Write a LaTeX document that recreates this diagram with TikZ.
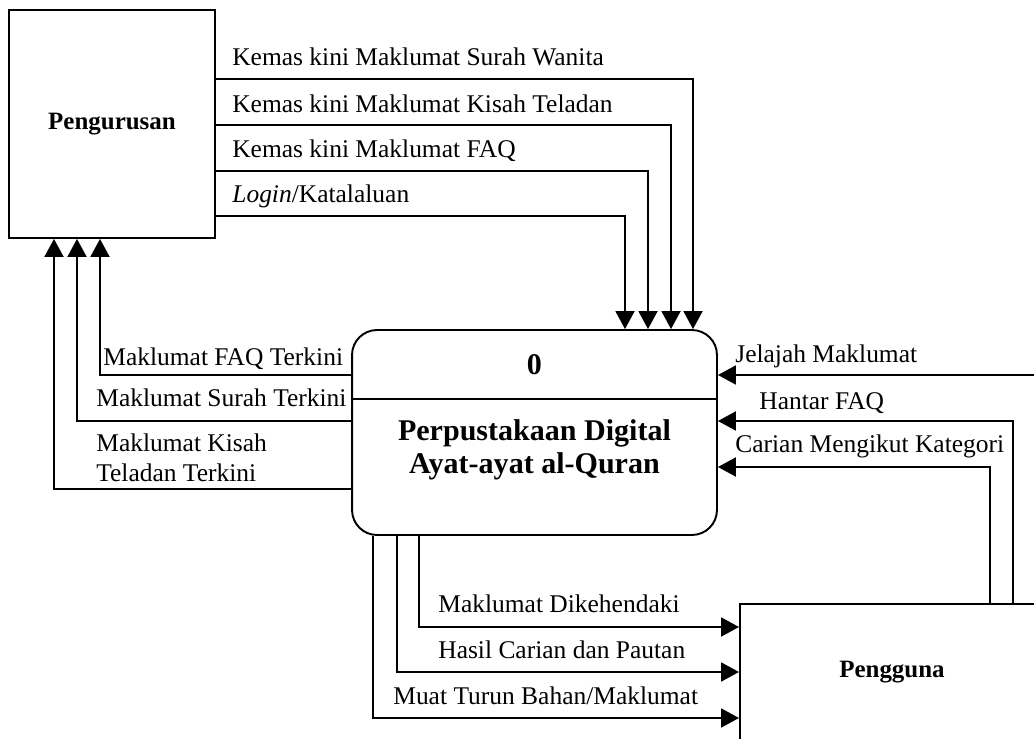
\documentclass[tikz,border=0pt]{standalone}
\usepackage{fontspec}
\setmainfont{Liberation Serif}
\usetikzlibrary{arrows.meta}

\tikzset{
  entity/.style={draw, line width=1.1pt, inner sep=0pt},
  enttext/.style={font=\fontsize{14.2}{17}\selectfont\bfseries},
  proctext/.style={font=\fontsize{17.1}{18.8}\selectfont\bfseries},
  flow/.style={draw, line width=1.1pt, -{Triangle[length=0.36cm,width=0.38cm]}},
  lbl/.style={inner sep=0pt, anchor=base west, font=\fontsize{14.5}{17}\selectfont},
}

\begin{document}
\begin{tikzpicture}[x=0.02cm, y=-0.02cm]
    \useasboundingbox (0,0) rectangle (1034,739);
    \clip (0,0) rectangle (1034,739);
    % entiti luaran
    \node[entity, enttext, minimum width=4.12cm, minimum height=4.56cm] (pengurusan) at (112,124) {Pengurusan};
    \node[entity, anchor=north west, minimum width=7cm, minimum height=4cm] (pengguna) at (739,603) {};
    \node[enttext] (pengguna-teks) at (892,672) {Pengguna};
    % proses 0
    \node[entity, rounded corners=0.5cm, minimum width=7.3cm, minimum height=4.1cm] (proc) at (534.5,432.5) {};
    \node[proctext] (proc-id) at (534.5,365) {0};
    \node[proctext, align=center] (proc-nama) at (534.5,450) {Perpustakaan Digital\\Ayat-ayat al-Quran};
    \draw[line width=1.1pt] (proc.west |- 0,399) -- (proc.east |- 0,399);
    % Pengurusan -> proses
    \draw[flow] (pengurusan.east |- 0,79) -| (693,0 |- proc.north);
    \draw[flow] (pengurusan.east |- 0,125) -| (671,0 |- proc.north);
    \draw[flow] (pengurusan.east |- 0,171) -| (648,0 |- proc.north);
    \draw[flow] (pengurusan.east |- 0,216) -| (625,0 |- proc.north);
    \node[lbl] (l-wanita) at (232,66) {Kemas kini Maklumat Surah Wanita};
    \node[lbl] (l-teladan) at (232,113) {Kemas kini Maklumat Kisah Teladan};
    \node[lbl] (l-faq) at (232,158) {Kemas kini Maklumat FAQ};
    \node[lbl] (l-login) at (232,203) {\textit{Login}/Katalaluan};
    % proses -> Pengurusan
    \draw[flow] (proc.west |- 0,375) -| (100,0 |- pengurusan.south);
    \draw[flow] (proc.west |- 0,421) -| (77,0 |- pengurusan.south);
    \draw[flow] (proc.west |- 0,489) -| (54,0 |- pengurusan.south);
    \node[lbl] (l-faq-terkini) at (103,366) {Maklumat FAQ Terkini};
    \node[lbl] (l-surah-terkini) at (96,407) {Maklumat Surah Terkini};
    \node[lbl, anchor=west, align=left] (l-kisah-terkini) at (96,458) {Maklumat Kisah\\Teladan Terkini};
    % Pengguna -> proses
    \draw[flow] (1045,0 |- pengguna.north) |- (proc.east |- 0,375);
    \draw[flow] (1013,0 |- pengguna.north) |- (proc.east |- 0,421);
    \draw[flow] (990,0 |- pengguna.north) |- (proc.east |- 0,467);
    \node[lbl] (l-jelajah) at (735,363) {Jelajah Maklumat};
    \node[lbl] (l-hantar) at (759,410) {Hantar FAQ};
    \node[lbl] (l-carian) at (735,453) {Carian Mengikut Kategori};
    % proses -> Pengguna
    \draw[flow] (419,0 |- proc.south) |- (pengguna.west |- 0,627);
    \draw[flow] (397,0 |- proc.south) |- (pengguna.west |- 0,672);
    \draw[flow] (373,0 |- proc.south) |- (pengguna.west |- 0,718);
    \node[lbl] (l-dikehendaki) at (438,612) {Maklumat Dikehendaki};
    \node[lbl] (l-hasil) at (438,658) {Hasil Carian dan Pautan};
    \node[lbl] (l-muat) at (393,704) {Muat Turun Bahan/Maklumat};
\end{tikzpicture}
\end{document}
